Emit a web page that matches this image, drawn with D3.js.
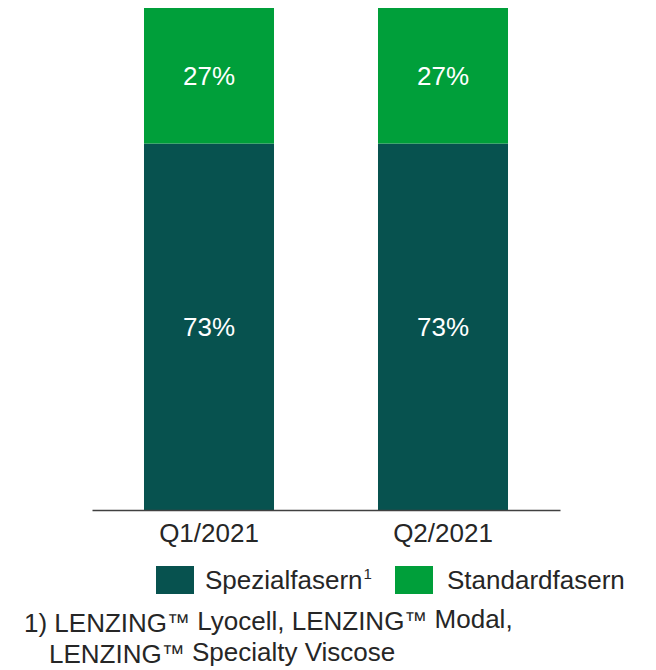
<!DOCTYPE html>
<html>
<head>
<meta charset="utf-8">
<script src="https://cdn.jsdelivr.net/npm/d3@7"></script>
<style>
  body { margin: 0; background: #fff; }
  svg { display: block; font-family: "Liberation Sans", Arial, sans-serif; }
</style>
</head>
<body>
<svg id="svg"></svg>
<script>
// data
let quarters = ["Q1/2021", "Q2/2021"];
let spezial = [73, 73];
let standard = [27, 27];
let seriesNames = ["Spezialfasern", "Standardfasern"];
let footnoteLines = ["1) LENZING\u2122 Lyocell, LENZING\u2122 Modal,", "LENZING\u2122 Specialty Viscose"];

let width = 656;
let height = 670;
let colors = ["#07524f", "#009f3a"];
let textColor = "#262626";

let svg = d3.select("#svg").attr("width", width).attr("height", height);

let xScale = d3.scaleBand()
  .domain(quarters)
  .range([92, 560])
  .paddingInner(0.4444)
  .paddingOuter(0.2222);

let yScale = d3.scaleLinear()
  .domain([0, 100])
  .range([510, 8]);

// stacked data
let rows = quarters.map((q, i) => ({ q: q, Spezialfasern: spezial[i], Standardfasern: standard[i] }));
let stack = d3.stack().keys(seriesNames)(rows);

let layers = svg.selectAll("g.layer")
  .data(stack)
  .enter()
  .append("g")
  .attr("class", "layer")
  .attr("fill", (d, i) => colors[i]);

layers.selectAll("rect")
  .data(d => d)
  .enter()
  .append("rect")
  .attr("x", d => xScale(d.data.q))
  .attr("y", d => yScale(d[1]))
  .attr("width", xScale.bandwidth())
  .attr("height", d => yScale(d[0]) - yScale(d[1]));

layers.selectAll("text")
  .data(d => d)
  .enter()
  .append("text")
  .attr("x", d => xScale(d.data.q) + xScale.bandwidth() / 2)
  .attr("y", d => (yScale(d[0]) + yScale(d[1])) / 2 + 9)
  .attr("text-anchor", "middle")
  .attr("fill", "#fff")
  .attr("font-size", 26)
  .text(d => (d[1] - d[0]) + "%");

// x axis
let xAxis = d3.axisBottom(xScale).tickSize(0).tickPadding(14);
let ax = svg.append("g")
  .attr("transform", "translate(0," + yScale(0) + ")")
  .call(xAxis);
ax.select(".domain").attr("stroke", "#404040").attr("stroke-width", 1.5);
ax.selectAll("text").attr("font-size", 26).attr("fill", textColor)
  .attr("font-family", "Liberation Sans, Arial, sans-serif");

// legend
let legendX = [156, 395];
let leg = svg.selectAll("g.legend")
  .data(seriesNames)
  .enter()
  .append("g")
  .attr("class", "legend")
  .attr("transform", (d, i) => "translate(" + legendX[i] + ",566)");

leg.append("rect")
  .attr("width", 38)
  .attr("height", 28)
  .attr("fill", (d, i) => colors[i]);

let legText = leg.append("text")
  .attr("x", (d, i) => i === 0 ? 49 : 52)
  .attr("y", 23)
  .attr("font-size", 26)
  .attr("fill", textColor)
  .text(d => d);

legText.filter((d, i) => i === 0)
  .append("tspan")
  .attr("font-size", 15)
  .attr("dy", -10)
  .attr("dx", 1)
  .text("1");

// footnote
let foot = svg.selectAll("text.foot")
  .data(footnoteLines)
  .enter()
  .append("text")
  .attr("class", "foot")
  .attr("x", (d, i) => i === 0 ? 24 : 49)
  .attr("y", (d, i) => 632 + i * 31)
  .attr("font-size", 26)
  .attr("fill", textColor);

foot.each(function(d) {
  let el = d3.select(this);
  let parts = d.split("\u2122");
  parts.forEach((p, j) => {
    el.append("tspan").attr("font-size", 26).text(p);
    if (j < parts.length - 1) {
      el.append("tspan").attr("font-size", 23).attr("dy", -2).text("\u2122");
      el.append("tspan").attr("font-size", 26).attr("dy", 2).text("");
    }
  });
});
</script>
</body>
</html>
